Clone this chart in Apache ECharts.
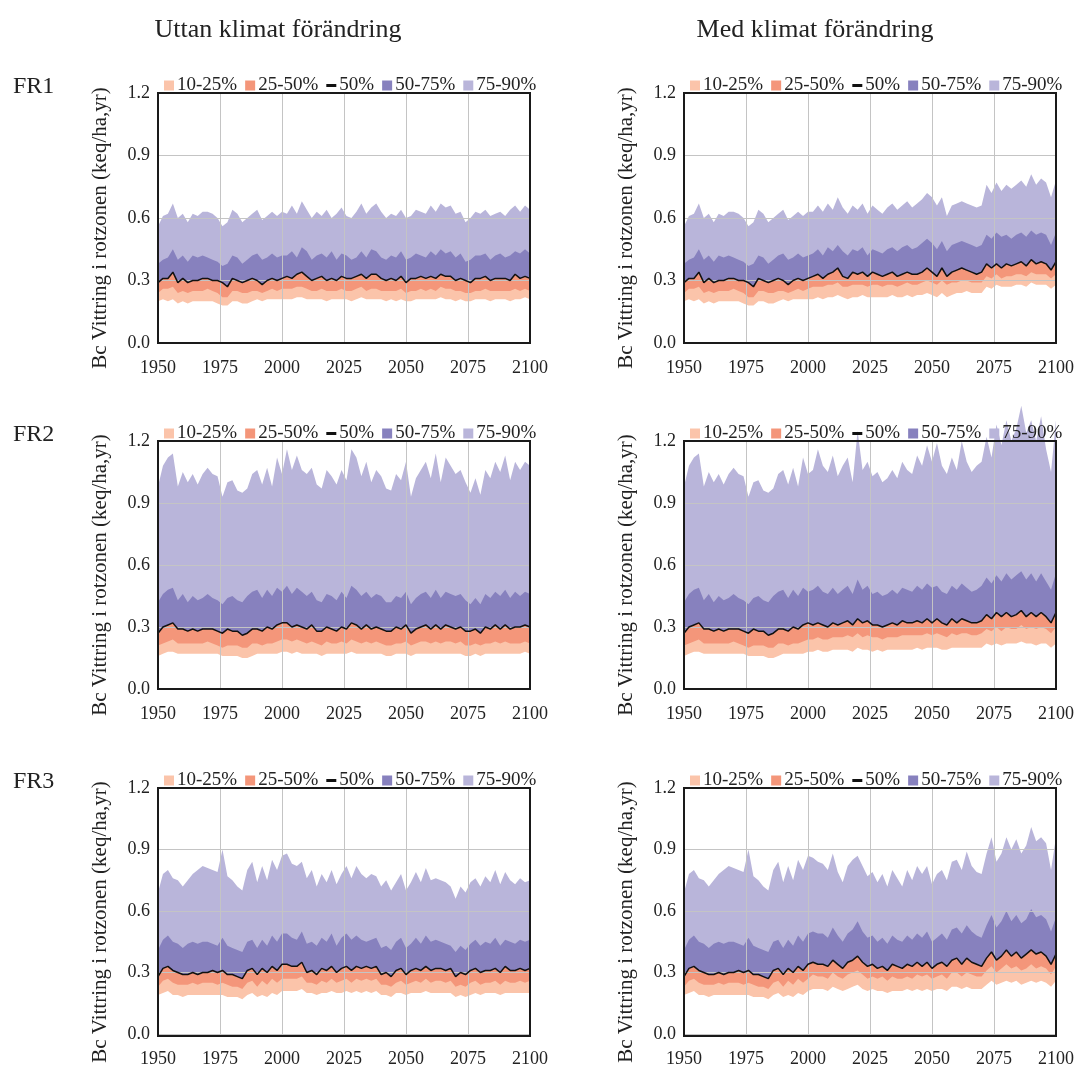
<!DOCTYPE html>
<html><head><meta charset="utf-8">
<script src="https://cdn.jsdelivr.net/npm/echarts@6/dist/echarts.min.js"></script>
<style>html,body{margin:0;padding:0;background:#fff}#c{width:1077px;height:1068px}</style>
</head><body><div id="c"></div>
<script>
// ---- categories (2-year steps) ----
const years = [1950,1952,1954,1956,1958,1960,1962,1964,1966,1968,1970,1972,1974,1976,1978,1980,1982,1984,1986,1988,1990,1992,1994,1996,1998,2000,
2002,2004,2006,2008,2010,2012,2014,2016,2018,2020,2022,2024,2026,2028,2030,2032,2034,2036,2038,2040,2042,2044,2046,2048,2050,
2052,2054,2056,2058,2060,2062,2064,2066,2068,2070,2072,2074,2076,2078,2080,2082,2084,2086,2088,2090,2092,2094,2096,2098,2100];
const xTicks = [1950,1975,2000,2025,2050,2075,2100];
const yTicks = [0.0,0.3,0.6,0.9,1.2];
const colTitles = ['Uttan klimat förändring','Med klimat förändring'];
const rowLabels = ['FR1','FR2','FR3'];
const bandNames = ['10-25%','25-50%','50%','50-75%','75-90%'];
const yName = 'Bc Vittring i rotzonen (keq/ha,yr)';

// ---- FR1 ----
const fr1HistP90 = [.56,.61,.62,.67,.60,.62,.58,.62,.61,.63,.63,.62,.60,.56,.58,.64,.62,.58,.60,.62,.64,.59,.61,.63,.61,.63];
const fr1HistP75 = [.38,.40,.41,.45,.40,.42,.39,.42,.41,.42,.41,.40,.39,.37,.38,.42,.41,.38,.40,.42,.43,.40,.41,.43,.41,.42];
const fr1HistP50 = [.29,.31,.31,.34,.29,.31,.29,.30,.30,.31,.31,.30,.30,.29,.27,.31,.30,.29,.30,.31,.30,.28,.30,.31,.30,.31];
const fr1HistP25 = [.24,.26,.26,.27,.24,.25,.24,.25,.25,.25,.26,.25,.24,.22,.22,.25,.25,.24,.24,.25,.25,.24,.25,.26,.25,.26];
const fr1HistP10 = [.20,.21,.20,.21,.19,.20,.19,.20,.20,.20,.20,.20,.19,.18,.18,.20,.20,.19,.19,.20,.21,.20,.21,.21,.21,.21];
const fr1NoP90 = [.62,.66,.62,.68,.64,.60,.63,.61,.64,.60,.62,.65,.61,.60,.63,.67,.62,.65,.67,.63,.60,.62,.61,.64,.60,.61,.64,.63,.62,.66,.63,.67,.65,.66,.62,.63,.58,.60,.63,.62,.64,.61,.62,.63,.61,.64,.66,.63,.66,.64];
const fr1NoP75 = [.42,.44,.41,.46,.44,.40,.42,.43,.41,.44,.40,.43,.42,.40,.41,.44,.41,.45,.44,.41,.40,.42,.41,.44,.40,.41,.43,.42,.41,.44,.42,.45,.43,.44,.41,.43,.39,.40,.42,.42,.43,.40,.42,.43,.41,.42,.44,.43,.45,.43];
const fr1NoP50 = [.32,.31,.33,.34,.32,.30,.31,.32,.30,.31,.30,.32,.31,.31,.32,.33,.31,.33,.33,.31,.30,.31,.30,.32,.29,.31,.31,.32,.31,.32,.31,.33,.32,.32,.30,.31,.30,.29,.31,.31,.32,.30,.31,.31,.31,.30,.33,.31,.32,.31];
const fr1NoP25 = [.26,.26,.27,.27,.26,.25,.25,.26,.25,.25,.25,.26,.25,.25,.26,.27,.25,.26,.26,.25,.25,.25,.25,.26,.24,.25,.25,.26,.25,.26,.25,.27,.26,.26,.25,.25,.24,.24,.25,.25,.26,.25,.25,.25,.25,.25,.26,.25,.26,.25];
const fr1NoP10 = [.21,.21,.22,.22,.21,.21,.21,.21,.20,.21,.21,.21,.21,.20,.21,.22,.21,.21,.21,.21,.20,.21,.20,.21,.20,.20,.21,.21,.21,.21,.21,.22,.21,.21,.20,.21,.20,.20,.21,.21,.21,.20,.21,.21,.21,.20,.21,.21,.22,.21];
const fr1CcP90 = [.63,.66,.63,.67,.64,.70,.65,.62,.66,.64,.67,.62,.66,.64,.62,.65,.67,.64,.66,.68,.65,.67,.69,.72,.70,.66,.70,.61,.66,.67,.68,.67,.66,.65,.66,.76,.72,.77,.73,.76,.74,.76,.78,.75,.81,.76,.79,.77,.70,.78];
const fr1CcP75 = [.43,.45,.42,.46,.44,.47,.44,.42,.45,.44,.46,.42,.45,.44,.43,.45,.46,.44,.46,.47,.45,.46,.48,.50,.48,.45,.49,.44,.47,.48,.49,.48,.47,.46,.47,.52,.50,.53,.51,.52,.50,.52,.53,.51,.54,.52,.53,.52,.47,.53];
const fr1CcP50 = [.32,.33,.31,.33,.34,.36,.32,.31,.34,.33,.34,.32,.34,.33,.32,.33,.34,.32,.33,.34,.33,.33,.34,.36,.34,.32,.36,.32,.34,.35,.36,.35,.34,.33,.34,.38,.36,.38,.36,.38,.37,.38,.39,.37,.40,.38,.39,.38,.35,.39];
const fr1CcP25 = [.27,.27,.27,.28,.28,.29,.27,.27,.28,.28,.28,.27,.28,.28,.27,.28,.28,.27,.28,.29,.28,.28,.29,.30,.29,.28,.30,.28,.29,.29,.30,.30,.29,.29,.29,.32,.31,.33,.31,.32,.32,.33,.33,.32,.34,.33,.33,.33,.31,.33];
const fr1CcP10 = [.21,.22,.21,.22,.22,.23,.22,.21,.22,.22,.23,.22,.22,.22,.22,.22,.23,.22,.22,.23,.22,.23,.23,.24,.23,.22,.24,.22,.23,.24,.24,.25,.24,.24,.24,.27,.26,.28,.27,.27,.27,.28,.28,.27,.29,.28,.28,.28,.26,.28];

// ---- FR2 ----
const fr2HistP90 = [.98,1.08,1.12,1.14,.98,1.05,1.00,1.04,.99,1.04,1.07,1.04,1.03,.93,1.00,1.01,.96,.95,.97,1.04,1.06,.99,1.07,.98,1.12,1.04];
const fr2HistP75 = [.42,.46,.48,.49,.43,.46,.42,.45,.43,.44,.46,.44,.43,.41,.44,.45,.43,.42,.45,.47,.48,.44,.48,.45,.49,.47];
const fr2HistP50 = [.27,.30,.31,.32,.29,.29,.28,.29,.28,.29,.29,.29,.28,.27,.29,.28,.28,.26,.27,.29,.29,.28,.30,.29,.31,.32];
const fr2HistP25 = [.21,.22,.23,.24,.22,.22,.22,.22,.22,.22,.23,.22,.21,.20,.21,.21,.21,.20,.20,.22,.22,.21,.22,.22,.23,.24];
const fr2HistP10 = [.16,.17,.18,.18,.17,.17,.17,.17,.17,.17,.17,.17,.17,.16,.16,.16,.16,.15,.15,.16,.17,.17,.17,.17,.17,.18];
const fr2NoP90 = [1.16,1.06,1.13,1.06,1.04,1.07,.99,.97,1.06,1.03,.99,1.06,1.01,1.16,1.12,1.03,1.10,1.00,1.06,1.03,.97,.96,1.04,1.01,1.10,.93,1.02,1.06,1.10,1.02,1.14,1.00,1.12,1.08,1.04,1.06,1.00,.95,1.02,.94,1.06,1.02,1.10,1.05,1.13,1.01,1.10,1.06,1.10,1.08];
const fr2NoP75 = [.50,.46,.49,.47,.45,.47,.43,.42,.46,.45,.43,.47,.44,.50,.48,.45,.47,.44,.46,.45,.42,.42,.45,.44,.47,.41,.44,.46,.47,.44,.48,.44,.47,.46,.45,.46,.43,.41,.44,.41,.46,.44,.47,.45,.48,.44,.47,.45,.47,.46];
const fr2NoP50 = [.32,.30,.31,.30,.29,.31,.28,.28,.30,.29,.28,.30,.29,.32,.31,.29,.31,.29,.30,.29,.28,.28,.30,.29,.31,.27,.29,.30,.31,.29,.31,.29,.31,.30,.29,.30,.28,.28,.29,.27,.30,.29,.31,.29,.31,.29,.30,.30,.31,.30];
const fr2NoP25 = [.24,.23,.24,.23,.22,.23,.22,.21,.23,.22,.22,.23,.22,.24,.23,.22,.23,.22,.23,.22,.21,.21,.22,.22,.23,.21,.22,.23,.23,.22,.23,.22,.23,.23,.22,.23,.21,.21,.22,.21,.22,.22,.23,.22,.23,.22,.22,.22,.23,.22];
const fr2NoP10 = [.18,.17,.18,.17,.17,.17,.17,.16,.17,.17,.17,.17,.17,.18,.17,.17,.17,.17,.17,.17,.16,.16,.17,.17,.17,.16,.17,.17,.17,.17,.17,.17,.17,.17,.17,.17,.16,.16,.17,.16,.17,.17,.17,.17,.17,.17,.17,.17,.18,.17];
const fr2CcP90 = [1.06,1.16,1.08,1.05,1.13,1.03,1.08,1.12,1.00,1.25,1.06,1.10,1.03,1.05,1.00,1.02,1.06,1.02,1.10,1.06,1.04,1.13,1.08,1.18,1.10,1.19,1.08,1.04,1.12,1.06,1.20,1.10,1.05,1.08,1.10,1.22,1.12,1.28,1.18,1.30,1.20,1.26,1.37,1.24,1.30,1.20,1.32,1.16,1.05,1.30];
const fr2CcP75 = [.48,.50,.47,.46,.49,.46,.48,.50,.46,.53,.48,.50,.46,.47,.45,.46,.48,.46,.49,.48,.47,.50,.48,.51,.49,.50,.47,.46,.50,.48,.51,.49,.47,.48,.50,.54,.51,.55,.52,.56,.53,.55,.57,.53,.56,.52,.56,.52,.48,.56];
const fr2CcP50 = [.31,.32,.31,.30,.32,.31,.32,.33,.31,.34,.32,.33,.31,.31,.30,.31,.32,.31,.33,.32,.32,.33,.32,.34,.32,.34,.32,.31,.34,.32,.34,.33,.32,.32,.33,.36,.34,.37,.35,.37,.35,.36,.38,.35,.37,.35,.37,.35,.32,.37];
const fr2CcP25 = [.24,.25,.24,.24,.25,.25,.25,.26,.25,.27,.25,.26,.25,.25,.24,.25,.25,.25,.26,.26,.26,.26,.26,.27,.26,.27,.26,.25,.27,.26,.27,.27,.26,.26,.27,.29,.28,.30,.28,.30,.29,.29,.31,.29,.30,.29,.30,.29,.27,.30];
const fr2CcP10 = [.18,.19,.18,.18,.19,.19,.19,.19,.18,.20,.19,.19,.18,.19,.18,.19,.19,.19,.19,.19,.19,.20,.19,.20,.20,.20,.19,.19,.20,.20,.20,.20,.20,.20,.20,.22,.21,.22,.21,.22,.22,.22,.23,.22,.22,.21,.22,.22,.20,.22];

// ---- FR3 ----
const fr3HistP90 = [.69,.78,.80,.76,.75,.72,.75,.78,.80,.82,.81,.80,.79,.90,.77,.75,.72,.70,.80,.84,.74,.82,.75,.85,.80,.87];
const fr3HistP75 = [.41,.46,.48,.45,.44,.42,.44,.45,.44,.45,.45,.44,.43,.47,.43,.42,.41,.40,.45,.46,.42,.46,.43,.48,.45,.49];
const fr3HistP50 = [.28,.32,.33,.31,.30,.29,.29,.30,.29,.30,.30,.31,.30,.31,.29,.29,.28,.27,.31,.32,.29,.32,.30,.33,.31,.34];
const fr3HistP25 = [.23,.26,.27,.25,.24,.24,.24,.25,.24,.25,.25,.25,.24,.25,.24,.23,.23,.22,.25,.26,.23,.26,.24,.27,.25,.27];
const fr3HistP10 = [.19,.20,.21,.19,.19,.18,.19,.19,.19,.19,.19,.19,.19,.19,.18,.18,.18,.17,.19,.20,.18,.19,.18,.20,.19,.21];
const fr3NoP90 = [.88,.83,.82,.84,.76,.80,.72,.78,.74,.80,.73,.78,.82,.76,.82,.78,.76,.78,.77,.72,.75,.70,.74,.78,.70,.74,.79,.74,.81,.75,.76,.75,.74,.72,.66,.72,.69,.74,.76,.72,.77,.74,.80,.73,.79,.75,.73,.76,.74,.75];
const fr3NoP75 = [.49,.47,.46,.50,.44,.45,.43,.47,.45,.49,.43,.47,.49,.46,.48,.46,.45,.46,.47,.42,.43,.41,.45,.47,.42,.44,.47,.44,.48,.45,.46,.45,.44,.43,.40,.43,.41,.44,.46,.43,.45,.44,.47,.43,.46,.45,.44,.46,.45,.46];
const fr3NoP50 = [.34,.33,.33,.35,.30,.31,.29,.32,.31,.33,.30,.32,.33,.31,.33,.32,.33,.32,.33,.29,.30,.28,.31,.32,.29,.31,.32,.31,.33,.31,.32,.32,.31,.32,.28,.30,.29,.31,.32,.30,.31,.31,.32,.30,.33,.31,.31,.32,.31,.32];
const fr3NoP25 = [.27,.27,.27,.28,.25,.25,.24,.26,.25,.27,.25,.26,.27,.25,.27,.26,.27,.26,.27,.24,.24,.23,.25,.26,.24,.25,.26,.25,.27,.25,.26,.26,.25,.26,.23,.24,.23,.25,.26,.24,.25,.25,.26,.24,.26,.25,.25,.26,.25,.26];
const fr3NoP10 = [.21,.21,.21,.22,.20,.20,.19,.20,.20,.21,.20,.20,.21,.20,.21,.20,.21,.20,.21,.19,.19,.18,.20,.20,.19,.20,.20,.20,.21,.20,.20,.20,.20,.20,.18,.19,.18,.19,.20,.19,.20,.20,.20,.19,.20,.20,.20,.20,.20,.20];
const fr3CcP90 = [.86,.84,.83,.80,.88,.79,.74,.82,.85,.87,.82,.77,.79,.74,.78,.72,.80,.76,.72,.80,.75,.82,.78,.82,.73,.78,.80,.75,.84,.85,.80,.89,.82,.79,.78,.88,.96,.84,.88,.96,.90,.95,.88,.92,1.01,.94,.96,.93,.80,.96];
const fr3CcP75 = [.50,.49,.49,.47,.52,.48,.45,.49,.51,.55,.50,.47,.48,.45,.47,.44,.48,.46,.45,.48,.46,.49,.47,.50,.45,.47,.49,.46,.51,.52,.49,.53,.50,.48,.47,.53,.58,.52,.55,.60,.55,.58,.54,.56,.61,.57,.58,.56,.50,.57];
const fr3CcP50 = [.35,.34,.34,.33,.36,.34,.32,.35,.36,.38,.35,.33,.34,.32,.33,.31,.34,.33,.32,.34,.33,.35,.33,.35,.32,.34,.35,.33,.36,.37,.34,.37,.35,.34,.33,.37,.40,.36,.38,.41,.38,.40,.37,.39,.41,.39,.40,.38,.34,.39];
const fr3CcP25 = [.29,.28,.28,.27,.30,.28,.27,.29,.30,.31,.29,.27,.28,.27,.28,.26,.28,.27,.27,.28,.27,.29,.28,.29,.27,.28,.29,.27,.30,.30,.28,.30,.29,.28,.28,.31,.33,.30,.32,.34,.32,.33,.31,.32,.34,.32,.33,.32,.29,.33];
const fr3CcP10 = [.22,.22,.22,.21,.23,.22,.21,.22,.23,.24,.22,.21,.22,.21,.21,.20,.21,.21,.21,.22,.21,.22,.21,.22,.21,.22,.22,.21,.23,.23,.22,.23,.22,.22,.22,.24,.26,.24,.25,.26,.25,.26,.24,.25,.26,.25,.26,.25,.23,.26];

// ---- build panels (row-major: FR1 left, FR1 right, FR2 left, ...) ----
const J = (a, b) => a.concat(b);
const panels = [
  [J(fr1HistP10,fr1NoP10), J(fr1HistP25,fr1NoP25), J(fr1HistP50,fr1NoP50), J(fr1HistP75,fr1NoP75), J(fr1HistP90,fr1NoP90)],
  [J(fr1HistP10,fr1CcP10), J(fr1HistP25,fr1CcP25), J(fr1HistP50,fr1CcP50), J(fr1HistP75,fr1CcP75), J(fr1HistP90,fr1CcP90)],
  [J(fr2HistP10,fr2NoP10), J(fr2HistP25,fr2NoP25), J(fr2HistP50,fr2NoP50), J(fr2HistP75,fr2NoP75), J(fr2HistP90,fr2NoP90)],
  [J(fr2HistP10,fr2CcP10), J(fr2HistP25,fr2CcP25), J(fr2HistP50,fr2CcP50), J(fr2HistP75,fr2CcP75), J(fr2HistP90,fr2CcP90)],
  [J(fr3HistP10,fr3NoP10), J(fr3HistP25,fr3NoP25), J(fr3HistP50,fr3NoP50), J(fr3HistP75,fr3NoP75), J(fr3HistP90,fr3NoP90)],
  [J(fr3HistP10,fr3CcP10), J(fr3HistP25,fr3CcP25), J(fr3HistP50,fr3CcP50), J(fr3HistP75,fr3CcP75), J(fr3HistP90,fr3CcP90)]
];

const FONT = '"Liberation Serif", "Times New Roman", serif';
const TXT = '#222';
const C_PEACH = '#fbc4aa', C_SALMON = '#f4967a', C_PURPLE = '#8781be', C_LAV = '#b9b5da';
const colLeft = [158, 684], plotW = 372;
const rowTop = [93, 441, 788], rowH = [250, 248, 248];
const legendTop = [71, 419, 766];

const grids = [], xAxes = [], yAxes = [], series = [], legends = [], graphics = [];
panels.forEach((pv, i) => {
  const r = Math.floor(i / 2), c = i % 2;
  grids.push({left: colLeft[c], top: rowTop[r], width: plotW, height: rowH[r], containLabel: false});
  xAxes.push({type: 'value', gridIndex: i, min: xTicks[0], max: xTicks[xTicks.length-1], interval: 25, z: 7,
    axisLine: {show: false}, axisTick: {show: false},
    axisLabel: {fontFamily: FONT, fontSize: 18, color: TXT, margin: 16, formatter: v => String(v)},
    splitLine: {show: true, lineStyle: {color: '#c4c4c4', width: 1}}});
  yAxes.push({type: 'value', gridIndex: i, min: yTicks[0], max: yTicks[yTicks.length-1], interval: 0.3, z: 7,
    axisLine: {show: false}, axisTick: {show: false},
    axisLabel: {fontFamily: FONT, fontSize: 18, color: TXT, margin: 8, formatter: v => v.toFixed(1)},
    splitLine: {show: true, lineStyle: {color: '#c4c4c4', width: 1}}});
  const mk = (vals) => years.map((y, k) => [y, vals[k]]);
  const area = (name, vals, color, z) => ({
    type: 'line', name: name, xAxisIndex: i, yAxisIndex: i, data: mk(vals), symbol: 'none', showSymbol: false,
    color: color, itemStyle: {color: color}, lineStyle: {width: 0}, areaStyle: {color: color, opacity: 1, origin: 'start'},
    clip: false, z: z, silent: true, animation: false
  });
  series.push(area('75-90%', pv[4], C_LAV, 2));
  series.push(area('50-75%', pv[3], C_PURPLE, 3));
  series.push(area('25-50%', pv[2], C_SALMON, 4));
  series.push(area('10-25%', pv[1], C_PEACH, 5));
  series.push(area('_base', pv[0], '#ffffff', 6));
  series.push({type: 'line', name: '50%', xAxisIndex: i, yAxisIndex: i, data: mk(pv[2]), symbol: 'none', showSymbol: false,
    color: '#111', itemStyle: {color: '#111'}, lineStyle: {color: '#111', width: 1.5}, clip: false, z: 12, silent: true, animation: false});
  legends.push({left: colLeft[c] + 1, top: legendTop[r], orient: 'horizontal', itemWidth: 10, itemHeight: 10, itemGap: 8,
    textStyle: {fontFamily: FONT, fontSize: 19, color: TXT, padding: [0, 0, 0, -2]}, selectedMode: false,
    data: [
      {name: '10-25%', icon: 'rect'}, {name: '25-50%', icon: 'rect'},
      {name: '50%', icon: 'path://M0,0H10V3H0Z'},
      {name: '50-75%', icon: 'rect'}, {name: '75-90%', icon: 'rect'}]});
  graphics.push({type: 'rect', shape: {x: colLeft[c], y: rowTop[r], width: plotW, height: rowH[r]},
    style: {fill: null, stroke: '#1a1a1a', lineWidth: 2}, z: 20, silent: true});
  graphics.push({type: 'text', x: colLeft[c] - 58, y: rowTop[r] + rowH[r] / 2 + 10, rotation: Math.PI / 2,
    style: {text: yName, font: '21px ' + FONT, fill: TXT, textAlign: 'center', textVerticalAlign: 'middle'}, z: 20, silent: true});
});
rowLabels.forEach((t, r) => {
  graphics.push({type: 'text', left: 13, top: rowTop[r] - 18, style: {text: t, font: '24px ' + FONT, fill: TXT}, z: 20});
});

const chart = echarts.init(document.getElementById('c'), null, {renderer: 'canvas'});
chart.setOption({
  backgroundColor: '#fff',
  animation: false,
  title: [
    {text: colTitles[0], left: 273, textAlign: 'center', top: 12, textStyle: {fontFamily: FONT, fontSize: 26, fontWeight: 'normal', color: TXT}},
    {text: colTitles[1], left: 810, textAlign: 'center', top: 12, textStyle: {fontFamily: FONT, fontSize: 26, fontWeight: 'normal', color: TXT}}
  ],
  grid: grids, xAxis: xAxes, yAxis: yAxes, series: series, legend: legends, graphic: graphics
});
</script>
</body></html>
